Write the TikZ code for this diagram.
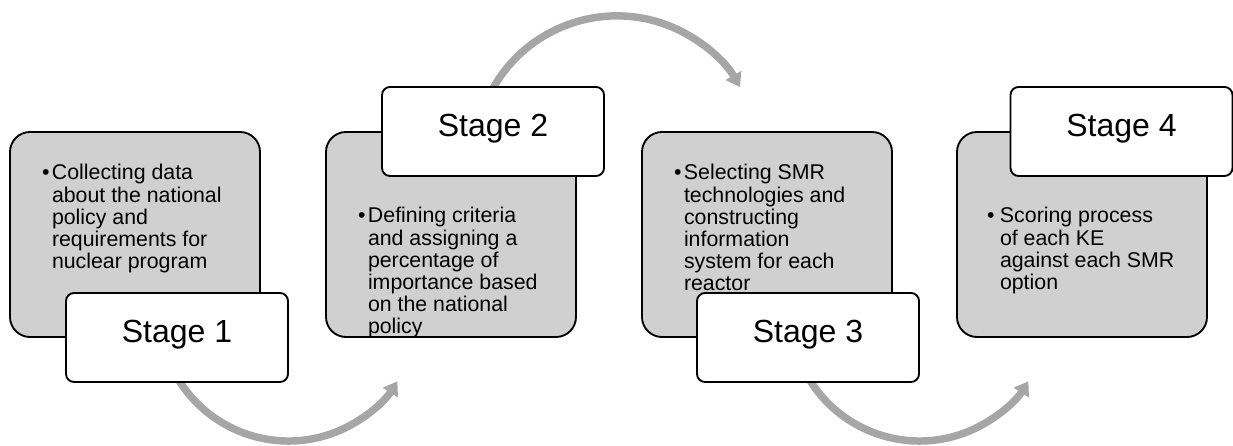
\documentclass[tikz,border=0pt]{standalone}
\usepackage{fontspec}
\setmainfont{Liberation Sans}
\usetikzlibrary{arrows.meta,calc}
\definecolor{boxgray}{HTML}{D0D0D0}
\definecolor{arrowgray}{HTML}{A6A6A6}
\newcommand\blt[1][7.5pt]{\makebox[#1][l]{\textbullet}}
\begin{document}
\begin{tikzpicture}[x=0.75pt,y=0.75pt,
  stagebox/.style={draw=black, line width=1.4pt, fill=boxgray, rounded corners=15pt,
    minimum width=187.5pt, minimum height=153.75pt, inner sep=0pt, outer sep=0pt},
  stagelabel/.style={draw=black, line width=1.4pt, fill=white, rounded corners=6pt,
    minimum width=166.5pt, minimum height=66.75pt, inner sep=0pt, outer sep=0pt,
    font=\fontsize{24}{28}\selectfont, text height=0.72em, text depth=0.03em},
  bullettext/.style={anchor=base west, inner sep=0pt, outer sep=0pt,
    font=\fontsize{16}{16.5}\selectfont},
  flowarrow/.style={draw=arrowgray, line width=5.6pt,
    -{Triangle[width=13pt,length=10pt]}}]
\useasboundingbox (0,0) rectangle (1233,446);

% arc centres
\coordinate (c1) at (288.5,134.3);
\coordinate (c2) at (616.9,287.9);
\coordinate (c3) at (919.5,134.3);

% gray boxes
\node[stagebox] (box1) at (135,211.5) {};
\node[stagebox] (box2) at (451,211.5) {};
\node[stagebox] (box3) at (767,211.5) {};
\node[stagebox] (box4) at (1082,211.5) {};

% texts
\node[bullettext] (txt1) at (42,266) {\begin{tabular}[t]{@{}l@{}l@{}}
\blt & Collecting data\\
 & about the national\\
 & policy and\\
 & requirements for\\
 & nuclear program\end{tabular}};
\node[bullettext] (txt2) at (358,223) {\begin{tabular}[t]{@{}l@{}l@{}}
\blt & Defining criteria\\
 & and assigning a\\
 & percentage of\\
 & importance based\\
 & on the national\\
 & policy\end{tabular}};
\node[bullettext] (txt3) at (674,266) {\begin{tabular}[t]{@{}l@{}l@{}}
\blt & Selecting SMR\\
 & technologies and\\
 & constructing\\
 & information\\
 & system for each\\
 & reactor\end{tabular}};
\node[bullettext] (txt4) at (987,223) {\begin{tabular}[t]{@{}l@{}l@{}}
\blt[9.75pt] & Scoring process\\
 & of each KE\\
 & against each SMR\\
 & option\end{tabular}};

% arrows (behind labels)
\draw[flowarrow] ($(c1)+(205:129.3)$) arc[start angle=205, end angle=327.4, radius=129.3];
\draw[flowarrow] ($(c2)+(155:142.2)$) arc[start angle=155, end angle=30, radius=142.2];
\draw[flowarrow] ($(c3)+(205:129.3)$) arc[start angle=205, end angle=327.4, radius=129.3];

% stage labels
\node[stagelabel] (lab1) at (177,108.5) {Stage 1};
\node[stagelabel] (lab2) at (493,314.5) {Stage 2};
\node[stagelabel] (lab3) at (808,108.5) {Stage 3};
\node[stagelabel] (lab4) at (1121.5,314.5) {Stage 4};
\end{tikzpicture}
\end{document}
